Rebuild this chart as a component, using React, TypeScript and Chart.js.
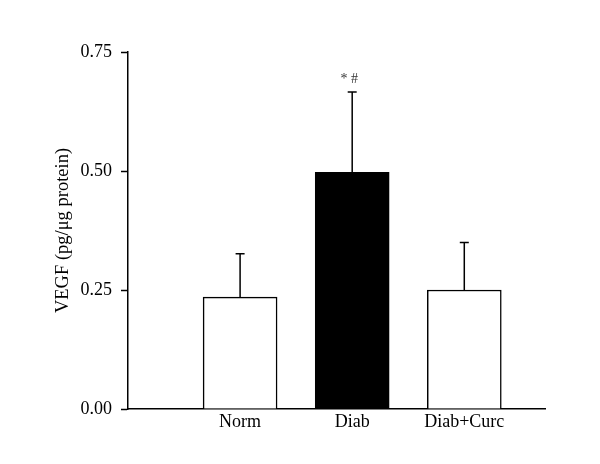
import React, { useEffect, useRef } from "react";
import { Chart, registerables } from "chart.js";

Chart.register(...registerables);

const categories = ["Norm", "Diab", "Diab+Curc"];
const positions = [1, 2, 3];
const means = [0.235, 0.497, 0.25];
const errors = [0.091, 0.169, 0.1];
const annotations = ["", "* #", ""];
const fills = ["#ffffff", "#000000", "#ffffff"];
const yTicks = [0, 0.25, 0.5, 0.75];

const FONT = "'Liberation Serif', 'Times New Roman', serif";

const errorBarPlugin = {
  id: "errorBars",
  afterDatasetsDraw(chart: any) {
    const { ctx, scales } = chart;
    const xs = scales.x;
    const ys = scales.y;
    ctx.save();
    ctx.strokeStyle = "#000";
    ctx.lineWidth = 1.5;
    means.forEach((m, i) => {
      const x = xs.getPixelForValue(positions[i]);
      const yTop = ys.getPixelForValue(m);
      const yErr = ys.getPixelForValue(m + errors[i]);
      ctx.beginPath();
      ctx.moveTo(x, yTop);
      ctx.lineTo(x, yErr);
      ctx.moveTo(x - 4.5, yErr);
      ctx.lineTo(x + 4.5, yErr);
      ctx.stroke();
      if (annotations[i]) {
        ctx.fillStyle = "#333";
        ctx.font = `14px ${FONT}`;
        ctx.textAlign = "center";
        ctx.textBaseline = "alphabetic";
        ctx.fillText(annotations[i], x - 3, yErr - 9);
      }
    });
    ctx.restore();
  },
};

export default function App() {
  const ref = useRef<HTMLCanvasElement>(null);
  useEffect(() => {
    document.body.style.margin = "0";
    const chart = new Chart(ref.current!, {
      type: "bar",
      data: {
        datasets: [
          {
            data: positions.map((p, i) => ({ x: p, y: means[i] })),
            backgroundColor: fills,
            borderColor: "#000",
            borderWidth: 1.5,
            barThickness: 74,
          },
        ],
      },
      options: {
        animation: false,
        responsive: false,
        maintainAspectRatio: false,
        layout: { padding: { top: 52, right: 55, left: 0, bottom: 0 } },
        plugins: { legend: { display: false }, tooltip: { enabled: false } },
        scales: {
          x: {
            type: "linear",
            min: 0,
            max: 3.72,
            offset: false,
            afterBuildTicks: (scale: any) => {
              scale.ticks = positions.map((p) => ({ value: p }));
            },
            afterFit: (scale: any) => {
              scale.height = 55;
            },
            ticks: {
              autoSkip: false,
              maxRotation: 0,
              padding: 2,
              color: "#000",
              font: { family: FONT, size: 18 },
              callback: (v: any) => categories[positions.indexOf(Number(v))] ?? "",
            },
            grid: { display: false, drawTicks: false },
            border: { display: true, color: "#000", width: 1.5 },
          },
          y: {
            min: 0,
            max: 0.75,
            afterBuildTicks: (scale: any) => {
              scale.ticks = yTicks.map((v) => ({ value: v }));
            },
            afterFit: (scale: any) => {
              scale.width = 128;
            },
            ticks: {
              padding: 9,
              color: "#000",
              font: { family: FONT, size: 18 },
              callback: (v: any) => Number(v).toFixed(2),
            },
            grid: {
              drawOnChartArea: false,
              drawTicks: true,
              tickLength: 7,
              tickColor: "#000",
              tickWidth: 1.5,
            },
            border: { display: true, color: "#000", width: 1.5 },
            title: {
              display: true,
              text: "VEGF (pg/μg protein)",
              color: "#000",
              font: { family: FONT, size: 18.5 },
              padding: { top: 52, bottom: 0 },
            },
          },
        },
      },
      plugins: [errorBarPlugin],
    });
    return () => chart.destroy();
  }, []);
  return (
    <div style={{ width: 600, height: 464 }}>
      <canvas ref={ref} width={600} height={464} style={{ display: "block" }} />
    </div>
  );
}
